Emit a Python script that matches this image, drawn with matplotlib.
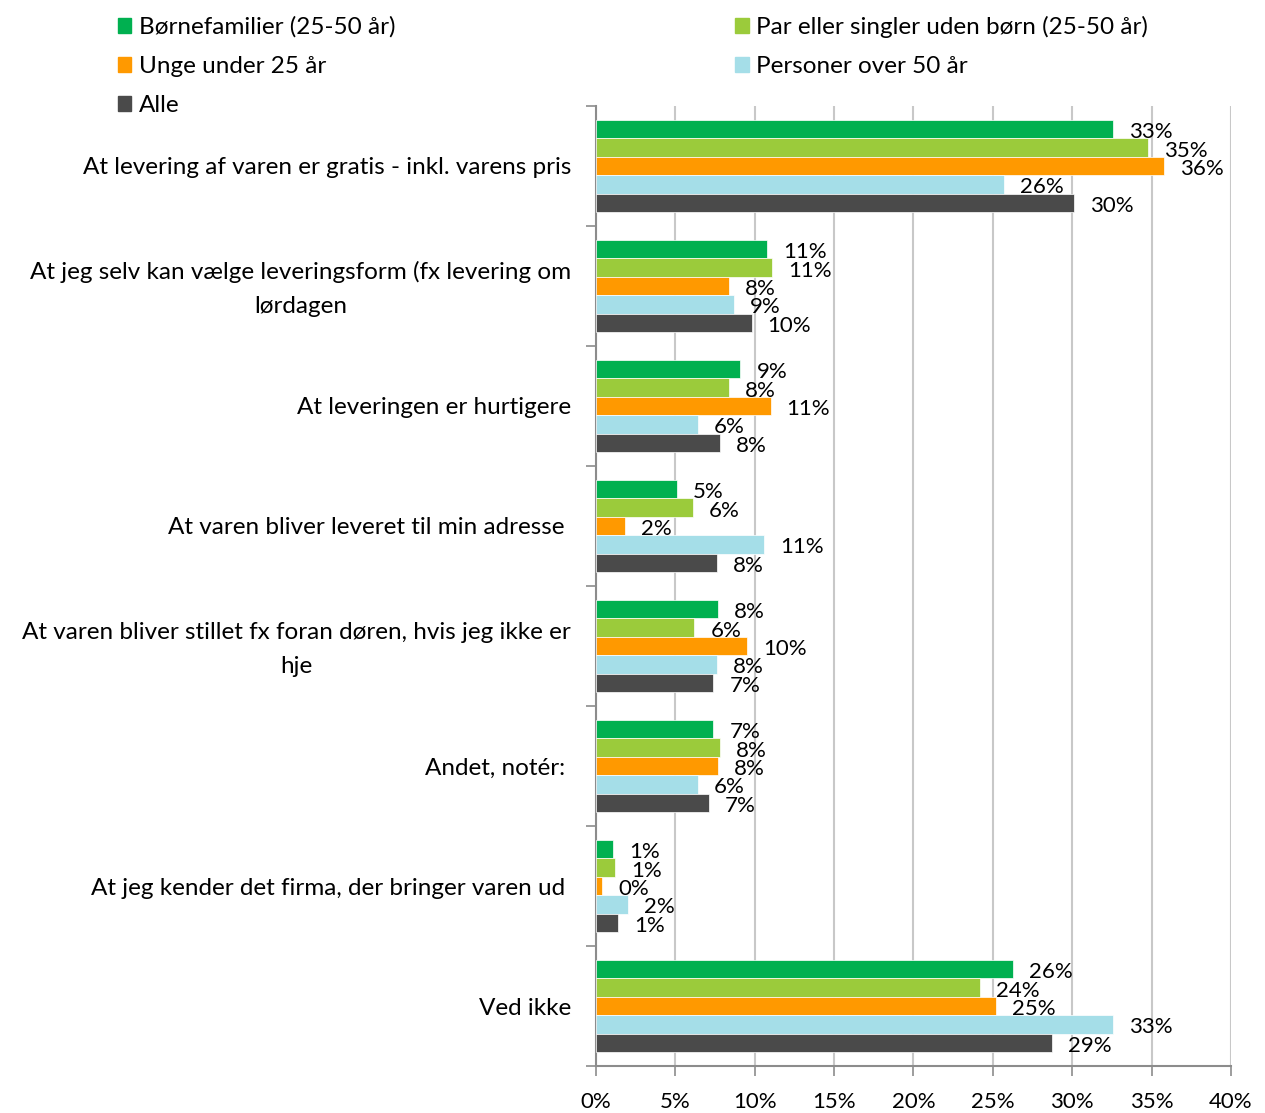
import numpy as np
import matplotlib
matplotlib.use("Agg")
from matplotlib import pyplot as plt
from matplotlib.patches import Patch

plt.rcParams['font.family'] = ['Lato', 'DejaVu Sans']

#------------------------------------------------------------
# Data (share of respondents, %)
categories = [
    "At levering af varen er gratis - inkl. varens pris",
    "At jeg selv kan vælge leveringsform (fx levering om\nlørdagen",
    "At leveringen er hurtigere",
    "At varen bliver leveret til min adresse ",
    "At varen bliver stillet fx foran døren, hvis jeg ikke er\nhje",
    "Andet, notér: ",
    "At jeg kender det firma, der bringer varen ud ",
    "Ved ikke",
]
series_names = [
    "Børnefamilier (25-50 år)",
    "Par eller singler uden børn (25-50 år)",
    "Unge under 25 år",
    "Personer over 50 år",
    "Alle",
]
boernefamilier = [32.6, 10.8, 9.1, 5.1, 7.7, 7.4, 1.1, 26.3]
par_singler = [34.8, 11.1, 8.4, 6.1, 6.2, 7.8, 1.2, 24.2]
unge = [35.8, 8.4, 11.0, 1.8, 9.5, 7.7, 0.4, 25.2]
over_50 = [25.7, 8.7, 6.4, 10.6, 7.6, 6.4, 2.0, 32.6]
alle = [30.1, 9.8, 7.8, 7.6, 7.4, 7.1, 1.4, 28.7]

series = [boernefamilier, par_singler, unge, over_50, alle]
colors = ['#00B050', '#9BCB3B', '#FF9900', '#A5DEE8', '#4A4A4A']

#------------------------------------------------------------
fig = plt.figure(figsize=(12.65, 11.13), dpi=100)
ax = fig.add_axes([0.4711, 0.0422, 0.502, 0.8626])

n = len(categories)
bar_h = 0.153
y = np.arange(n)
for j, (vals, col) in enumerate(zip(series, colors)):
    pos = y + (j - 2) * bar_h
    ax.barh(pos, vals, height=bar_h, color=col, edgecolor='white',
            linewidth=0.5, zorder=3)
    for p, v in zip(pos, vals):
        ax.annotate('%d%%' % round(v), (v, p), xytext=(16, -3),
                    textcoords='offset pixels',
                    va='center', ha='left', fontsize=16, color='black')

ax.set_xlim(0, 40)
ax.set_ylim(n - 0.5, -0.5)
ax.set_xticks(np.arange(0, 41, 5))
ax.set_xticklabels(['%d%%' % t for t in range(0, 41, 5)], fontsize=16)
ax.xaxis.grid(True, color='#C8C8C8', linewidth=1.5, zorder=0)

# category boundaries as major ticks, labels at the group centres
# (two-line labels sit a little higher in the original)
ax.set_yticks(np.arange(-0.5, n, 1.0))
ax.set_yticklabels([])
label_pos = [c - 0.042 if '\n' in c_txt else c
             for c, c_txt in zip(y, categories)]
ax.set_yticks(label_pos, minor=True)
ax.set_yticklabels(categories, minor=True, fontsize=17.5,
                   multialignment='center', linespacing=1.75)
ax.tick_params(axis='y', which='minor', length=0, pad=18)
ax.tick_params(axis='y', which='major', length=7, color='#8C8C8C', width=1.2)
ax.tick_params(axis='x', length=7, color='#8C8C8C', width=1.2, pad=12)

for s in ['top', 'right']:
    ax.spines[s].set_visible(False)
for s in ['left', 'bottom']:
    ax.spines[s].set_color('#8C8C8C')
    ax.spines[s].set_linewidth(1.5)

handles = [Patch(color=c) for c in colors]
order = [0, 2, 4, 1, 3]
fig.legend([handles[i] for i in order], [series_names[i] for i in order],
           ncol=2, loc='upper left', bbox_to_anchor=(0.076, 1.0055),
           frameon=False, fontsize=17.5, handlelength=0.55, handleheight=0.55,
           handletextpad=0.3, labelspacing=0.74, columnspacing=14.0)

plt.savefig("out.png", dpi=100)
